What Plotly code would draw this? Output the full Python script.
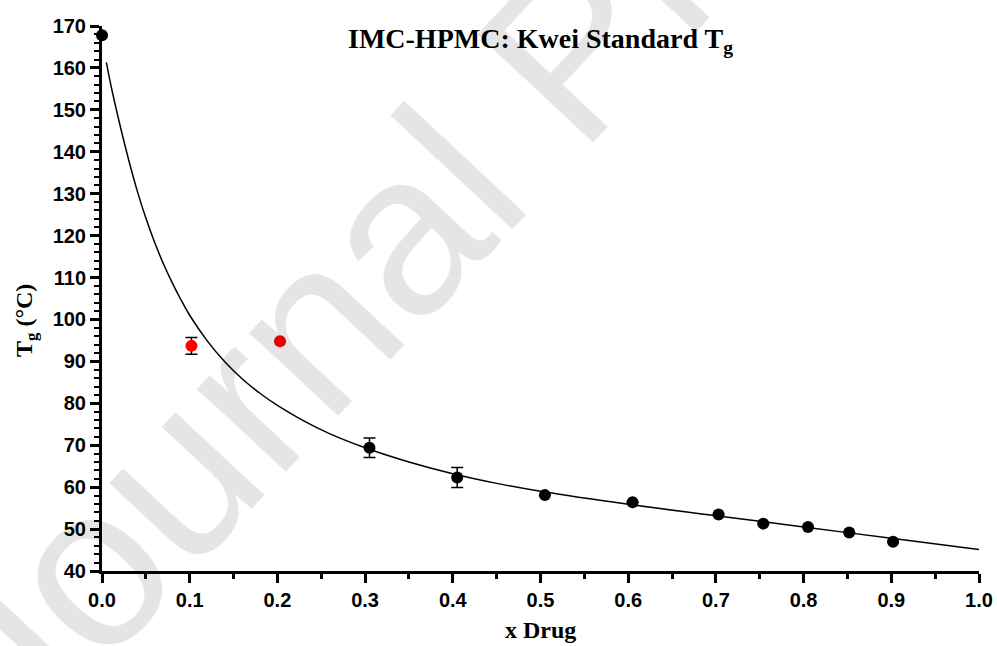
import plotly.graph_objects as go

# ---- data ----
x_black = [0.0, 0.305, 0.405, 0.505, 0.605, 0.703, 0.754, 0.805, 0.852, 0.902]
y_black = [167.8, 69.4, 62.3, 58.1, 56.4, 53.5, 51.3, 50.5, 49.2, 47.0]
e_black = [0.0, 2.3, 2.4, 0.0, 0.0, 0.0, 0.0, 0.0, 0.0, 0.0]

x_red = [0.102, 0.203]
y_red = [93.7, 94.8]
e_red = [2.0, 0.0]

# fitted Kwei curve
fit_x = [0.005, 0.01, 0.02, 0.03, 0.04, 0.05, 0.06, 0.07, 0.08, 0.09,
         0.10, 0.12, 0.14, 0.16, 0.18, 0.20, 0.23, 0.26, 0.30, 0.35,
         0.40, 0.45, 0.50, 0.60, 0.70, 0.80, 0.90, 1.00]
fit_y = [161.3, 156.0, 146.8, 138.4, 130.8, 124.2, 118.4, 113.3, 108.8, 104.7,
         101.0, 94.9, 89.9, 85.8, 82.4, 79.5, 75.8, 72.7, 69.4, 66.0,
         63.2, 60.9, 59.0, 55.9, 53.2, 50.5, 47.8, 45.1]

title_text = "IMC-HPMC: Kwei Standard T<sub>g</sub>"
x_title = "x Drug"
y_title = "T<sub>g</sub> (°C)"
watermark = "Journal Pre-proof"

# ---- figure ----
L, R, T, B = 102, 18, 26, 75
W, H = 997, 646
pw, ph = W - L - R, H - T - B

def px_to_paper(px, py):
    return (px - L) / pw, (H - B - py) / ph

fig = go.Figure()
fig.add_trace(go.Scatter(x=fit_x, y=fit_y, mode="lines",
                         line=dict(color="black", width=1.5, shape="spline", smoothing=1.0),
                         hoverinfo="skip", showlegend=False, cliponaxis=False))
fig.add_trace(go.Scatter(x=x_black, y=y_black, mode="markers",
                         marker=dict(color="black", size=12),
                         error_y=dict(type="data", array=e_black, color="black", thickness=1.5, width=6),
                         showlegend=False, cliponaxis=False))
fig.add_trace(go.Scatter(x=x_red, y=y_red, mode="markers",
                         marker=dict(color="#ff0000", size=12),
                         error_y=dict(type="data", array=e_red, color="black", thickness=1.5, width=6),
                         showlegend=False, cliponaxis=False))

tickfont = dict(family="Liberation Sans, Arial, sans-serif", size=20, color="black", weight="bold")
serif_bold = dict(family="Liberation Serif, Times New Roman, serif", color="black", weight="bold")

fig.update_xaxes(range=[0, 1], tick0=0, dtick=0.1, tickformat=".1f", automargin=False,
                 showline=True, linecolor="black", linewidth=3,
                 ticks="outside", ticklen=9, tickwidth=3, tickcolor="black",
                 minor=dict(dtick=0.05, ticks="outside", ticklen=5, tickwidth=3, tickcolor="black"),
                 showgrid=False, zeroline=False, tickfont=tickfont)
fig.update_yaxes(range=[40, 170], tick0=40, dtick=10, automargin=False,
                 showline=True, linecolor="black", linewidth=3,
                 ticks="outside", ticklen=9, tickwidth=3, tickcolor="black",
                 minor=dict(dtick=2, ticks="outside", ticklen=5, tickwidth=2, tickcolor="black"),
                 showgrid=False, zeroline=False, tickfont=tickfont)

wx, wy = px_to_paper(570, 50)
tx, ty = px_to_paper(540, 40)
yx, yy = px_to_paper(26, 321)
xx, xy = px_to_paper(540, 630)

fig.update_layout(
    width=W, height=H,
    margin=dict(l=L, r=R, t=T, b=B),
    paper_bgcolor="white", plot_bgcolor="white",
    annotations=[
        dict(text=watermark, xref="paper", yref="paper", x=wx, y=wy,
             xanchor="center", yanchor="middle", textangle=-47, showarrow=False,
             font=dict(family="Liberation Sans, Arial, sans-serif", size=230, color="rgba(0,0,0,0.1)")),
        dict(text=title_text, xref="paper", yref="paper", x=tx, y=ty,
             xanchor="center", yanchor="middle", showarrow=False,
             font=dict(size=28, **serif_bold)),
        dict(text=y_title, xref="paper", yref="paper", x=yx, y=yy,
             xanchor="center", yanchor="middle", textangle=-90, showarrow=False,
             font=dict(size=24, **serif_bold)),
        dict(text=x_title, xref="paper", yref="paper", x=xx, y=xy,
             xanchor="center", yanchor="middle", showarrow=False,
             font=dict(size=24, **serif_bold)),
    ],
)

fig.write_html("out.html")
